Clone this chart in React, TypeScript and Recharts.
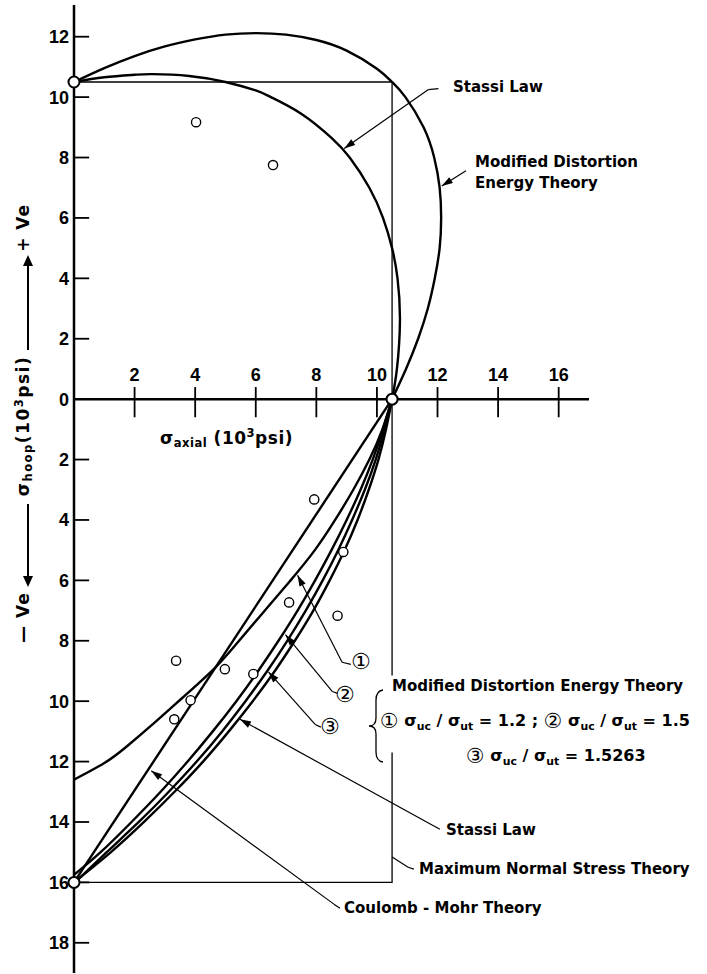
import { ComposedChart, Line, Scatter, XAxis, YAxis, ReferenceLine } from 'recharts';

const W = 707;
const H = 974;
const M = { top: 5, right: 12, bottom: 1, left: 74 };
const X_DOMAIN: [number, number] = [0, 20.5];
const Y_DOMAIN: [number, number] = [-19, 13.05];
const PX_X = (W - M.left - M.right) / (X_DOMAIN[1] - X_DOMAIN[0]);
const PX_Y = (H - M.top - M.bottom) / (Y_DOMAIN[1] - Y_DOMAIN[0]);

const AXIS_FONT = "'Liberation Sans', Arial, sans-serif";
const NOTE_FONT = "'DejaVu Sans', sans-serif";

const xTicks = [2, 4, 6, 8, 10, 12, 14, 16];
const yTicks = [12, 10, 8, 6, 4, 2, 0, -2, -4, -6, -8, -10, -12, -14, -16, -18];

// stresses in 10^3 psi: x = axial, y = hoop
const maxNormalUpper = [
  { x: 0, y: 10.5 }, { x: 10.5, y: 10.5 }, { x: 10.5, y: -9.15 },
];
const maxNormalLower = [
  { x: 10.5, y: -11.7 }, { x: 10.5, y: -16 }, { x: 0, y: -16 },
];

const stassiLaw = [
  { x: 0, y: 10.5 }, { x: 1, y: 10.66 }, { x: 2, y: 10.74 }, { x: 2.6, y: 10.76 },
  { x: 3.8, y: 10.7 }, { x: 5, y: 10.5 }, { x: 6, y: 10.22 }, { x: 6.5, y: 10 },
  { x: 7.5, y: 9.45 }, { x: 8.5, y: 8.65 }, { x: 9.1, y: 8 }, { x: 9.75, y: 7 },
  { x: 10.2, y: 6 }, { x: 10.5, y: 5 }, { x: 10.68, y: 4 }, { x: 10.76, y: 2.6 },
  { x: 10.66, y: 1 }, { x: 10.5, y: 0 }, { x: 10.3, y: -1 }, { x: 10.05, y: -2 },
  { x: 9.73, y: -3 }, { x: 9.36, y: -4 }, { x: 8.93, y: -5 }, { x: 8.44, y: -6 },
  { x: 7.9, y: -7 }, { x: 7.29, y: -8 }, { x: 6.63, y: -9 }, { x: 5.9, y: -10 },
  { x: 5.11, y: -11 }, { x: 4.26, y: -12 }, { x: 3.32, y: -13 }, { x: 2.31, y: -14 },
  { x: 1.22, y: -15 }, { x: 0, y: -16 },
];

const modDistortionTension = [
  { x: 0, y: 10.5 }, { x: 1, y: 10.96 }, { x: 2, y: 11.36 }, { x: 3, y: 11.68 },
  { x: 4, y: 11.91 }, { x: 5, y: 12.07 }, { x: 6, y: 12.12 }, { x: 7, y: 12.07 },
  { x: 8, y: 11.89 }, { x: 9, y: 11.54 }, { x: 10, y: 10.94 }, { x: 10.5, y: 10.5 },
  { x: 10.94, y: 10 }, { x: 11.54, y: 9 }, { x: 11.89, y: 8 }, { x: 12.07, y: 7 },
  { x: 12.12, y: 6 }, { x: 12.07, y: 5 }, { x: 11.91, y: 4 }, { x: 11.68, y: 3 },
  { x: 11.36, y: 2 }, { x: 10.96, y: 1 }, { x: 10.5, y: 0 },
];

// (1) σuc/σut = 1.2
const modDistortion1 = [
  { x: 10.5, y: 0 }, { x: 10.18, y: -1 }, { x: 9.75, y: -2 }, { x: 9.22, y: -3 },
  { x: 8.62, y: -4 }, { x: 7.95, y: -5 }, { x: 7.15, y: -6 }, { x: 6.3, y: -7 },
  { x: 5.45, y: -8 }, { x: 4.68, y: -8.87 }, { x: 3.6, y: -9.87 }, { x: 2.65, y: -10.72 },
  { x: 1.74, y: -11.5 }, { x: 1.0, y: -12.05 }, { x: 0, y: -12.6 },
];

// (2) σuc/σut = 1.5
const modDistortion2 = [
  { x: 10.5, y: 0 }, { x: 10.2, y: -1 }, { x: 9.86, y: -2 }, { x: 9.46, y: -3 },
  { x: 9.0, y: -4 }, { x: 8.5, y: -5 }, { x: 7.96, y: -6 }, { x: 7.38, y: -7 },
  { x: 6.75, y: -8 }, { x: 6.08, y: -9 }, { x: 5.36, y: -10 }, { x: 4.58, y: -11 },
  { x: 3.75, y: -12 }, { x: 2.86, y: -13 }, { x: 1.9, y: -14 }, { x: 0.88, y: -15 },
  { x: 0, y: -15.75 },
];

// (3) σuc/σut = 1.5263
const modDistortion3 = [
  { x: 10.5, y: 0 }, { x: 10.25, y: -1 }, { x: 9.96, y: -2 }, { x: 9.6, y: -3 },
  { x: 9.18, y: -4 }, { x: 8.72, y: -5 }, { x: 8.21, y: -6 }, { x: 7.65, y: -7 },
  { x: 7.04, y: -8 }, { x: 6.38, y: -9 }, { x: 5.66, y: -10 }, { x: 4.89, y: -11 },
  { x: 4.05, y: -12 }, { x: 3.13, y: -13 }, { x: 2.14, y: -14 }, { x: 1.08, y: -15 },
  { x: 0, y: -16.03 },
];

const coulombMohr = [{ x: 10.5, y: 0 }, { x: 0, y: -16 }];

const testPoints = [
  { x: 4.03, y: 9.17 }, { x: 6.57, y: 7.75 },
  { x: 7.93, y: -3.32 }, { x: 8.89, y: -5.06 }, { x: 7.1, y: -6.73 }, { x: 8.7, y: -7.17 },
  { x: 3.37, y: -8.66 }, { x: 4.98, y: -8.94 }, { x: 5.92, y: -9.1 },
  { x: 3.85, y: -9.97 }, { x: 3.31, y: -10.6 },
];

const intercepts = [{ x: 0, y: 10.5 }, { x: 10.5, y: 0 }, { x: 0, y: -16 }];

// leader lines of the notes, first point is the arrow tip
const leaders = [
  { arrow: true, pts: [{ x: 8.92, y: 8.3 }, { x: 11.7, y: 10.25 }, { x: 12.03, y: 10.28 }] },
  { arrow: true, pts: [{ x: 12.14, y: 7.06 }, { x: 12.94, y: 7.56 }] },
  { arrow: true, pts: [{ x: 7.38, y: -5.83 }, { x: 8.85, y: -8.71 }, { x: 9.14, y: -8.78 }] },
  { arrow: true, pts: [{ x: 6.98, y: -7.8 }, { x: 8.53, y: -9.68 }, { x: 8.7, y: -9.74 }] },
  { arrow: true, pts: [{ x: 6.42, y: -9.03 }, { x: 7.96, y: -10.77 }, { x: 8.15, y: -10.86 }] },
  { arrow: true, pts: [{ x: 5.48, y: -10.6 }, { x: 11.82, y: -14.1 }, { x: 12.08, y: -14.24 }] },
  { arrow: false, pts: [{ x: 10.5, y: -15.16 }, { x: 11.03, y: -15.5 }, { x: 11.22, y: -15.56 }] },
  { arrow: true, pts: [{ x: 2.55, y: -12.3 }, { x: 8.58, y: -16.72 }, { x: 8.78, y: -16.86 }] },
];

const arrowTips = leaders
  .filter((l) => l.arrow)
  .map((l) => ({ x: l.pts[0].x, y: l.pts[0].y, fx: l.pts[1].x, fy: l.pts[1].y }));

const tickLabel = (value: string, position: 'top' | 'left', offset: number) => ({
  value, position, offset, fill: '#000', fontSize: 18, fontWeight: 700, fontFamily: AXIS_FONT,
});

const Ring = (r: number, w: number) => (props: any) => (
  <circle cx={props.cx} cy={props.cy} r={r} fill="#fff" stroke="#000" strokeWidth={w} />
);

const ArrowHead = (props: any) => {
  const { cx, cy, payload } = props;
  const dx = (payload.x - payload.fx) * PX_X;
  const dy = -(payload.y - payload.fy) * PX_Y;
  const deg = (Math.atan2(dy, dx) * 180) / Math.PI;
  return (
    <polygon points="0,0 -11,-3.5 -11,3.5" fill="#000"
      transform={`translate(${cx},${cy}) rotate(${deg})`} />
  );
};

const Sub = ({ children }: { children: any }) => (
  <span style={{ fontSize: '0.68em', position: 'relative', top: '0.3em' }}>{children}</span>
);
const Sup = ({ children }: { children: any }) => (
  <span style={{ fontSize: '0.68em', position: 'relative', top: '-0.55em' }}>{children}</span>
);
const Circled = ({ children }: { children: any }) => (
  <span style={{ fontSize: '1.3em', fontWeight: 400, position: 'relative', top: '0.08em' }}>{children}</span>
);

const Note = ({ x, y, size = 15, children, style }: any) => (
  <div style={{
    position: 'absolute', left: x, top: y - size * 0.6, fontSize: size, fontWeight: 700,
    lineHeight: `${size * 1.2}px`, whiteSpace: 'nowrap', fontFamily: NOTE_FONT, ...style,
  }}>
    {children}
  </div>
);

const Arrow = ({ len, dir }: { len: number; dir: 'left' | 'right' }) => (
  <span style={{ display: 'inline-block', position: 'relative', width: len, height: 2, background: '#000' }}>
    <span style={{
      position: 'absolute', top: -4, [dir === 'left' ? 'left' : 'right']: -3,
      width: 0, height: 0, borderTop: '5px solid transparent', borderBottom: '5px solid transparent',
      [dir === 'left' ? 'borderRight' : 'borderLeft']: '11px solid #000',
    }} />
  </span>
);

const curve = (data: { x: number; y: number }[], w = 2.4, type: any = 'natural') => (
  <Line data={data} dataKey="y" type={type} stroke="#000" strokeWidth={w}
    dot={false} activeDot={false} isAnimationActive={false} />
);

export default function App() {
  return (
    <div style={{ position: 'absolute', left: 0, top: 0, width: W, height: H, background: '#fff', color: '#000' }}>
      <ComposedChart width={W} height={H} margin={M}>
        <XAxis type="number" dataKey="x" domain={X_DOMAIN} hide />
        <YAxis type="number" dataKey="y" domain={Y_DOMAIN} hide />

        {/* axes drawn through the origin */}
        <ReferenceLine segment={[{ x: 0, y: Y_DOMAIN[1] }, { x: 0, y: Y_DOMAIN[0] }]} stroke="#000" strokeWidth={2.5} />
        <ReferenceLine segment={[{ x: 0, y: 0 }, { x: 17, y: 0 }]} stroke="#000" strokeWidth={2.5} />
        {xTicks.map((t) => (
          <ReferenceLine key={`x${t}`} segment={[{ x: t, y: 0.4 }, { x: t, y: -0.6 }]}
            stroke="#000" strokeWidth={1.8} label={tickLabel(String(t), 'top', 6)} />
        ))}
        {yTicks.map((t) => (
          <ReferenceLine key={`y${t}`} segment={[{ x: 0, y: t }, { x: 0.5, y: t }]}
            stroke={t === 0 ? 'none' : '#000'} strokeWidth={1.8}
            label={tickLabel(String(Math.abs(t)), 'left', 5)} />
        ))}

        {leaders.map((l, i) =>
          l.pts.slice(1).map((p, j) => (
            <ReferenceLine key={`${i}-${j}`} segment={[l.pts[j], p]} stroke="#000" strokeWidth={1.2} />
          ))
        )}

        {curve(maxNormalUpper, 1.3, 'linear')}
        {curve(maxNormalLower, 1.3, 'linear')}
        {curve(coulombMohr, 2.4, 'linear')}
        {curve(stassiLaw)}
        {curve(modDistortionTension)}
        {curve(modDistortion1)}
        {curve(modDistortion2)}
        {curve(modDistortion3)}

        <Scatter data={arrowTips} dataKey="y" shape={ArrowHead} isAnimationActive={false} />
        <Scatter data={testPoints} dataKey="y" shape={Ring(4.6, 1.4)} isAnimationActive={false} />
        <Scatter data={intercepts} dataKey="y" shape={Ring(5.5, 2)} isAnimationActive={false} />
      </ComposedChart>

      {/* y axis title, reads bottom to top */}
      <div style={{
        position: 'absolute', left: 23 - 213, top: 430 - 12, width: 426, height: 24,
        transform: 'rotate(-90deg)', display: 'flex', alignItems: 'center',
        fontFamily: NOTE_FONT, fontSize: 17, fontWeight: 700, whiteSpace: 'nowrap', letterSpacing: 1,
      }}>
        <span>— Ve</span>
        <span style={{ marginLeft: 8 }}><Arrow len={80} dir="left" /></span>
        <span style={{ marginLeft: 8, letterSpacing: 1.5 }}>
          σ<Sub>hoop</Sub>(10<Sup>3</Sup>psi)
        </span>
        <span style={{ marginLeft: 6 }}><Arrow len={92} dir="right" /></span>
        <span style={{ marginLeft: 6 }}>+ Ve</span>
      </div>

      <Note x={160} y={438} size={17} style={{ letterSpacing: 0.5 }}>
        σ<Sub>axial</Sub> (10<Sup>3</Sup>psi)
      </Note>

      <Note x={453} y={87}>Stassi Law</Note>
      <Note x={475} y={162}>Modified Distortion</Note>
      <Note x={475} y={183}>Energy Theory</Note>

      <Note x={351} y={662} size={22} style={{ fontWeight: 400 }}>①</Note>
      <Note x={335} y={695} size={22} style={{ fontWeight: 400 }}>②</Note>
      <Note x={320} y={727} size={22} style={{ fontWeight: 400 }}>③</Note>

      <Note x={392} y={686}>Modified Distortion Energy Theory</Note>
      <Note x={380} y={720} size={16}>
        <Circled>①</Circled> σ<Sub>uc</Sub> / σ<Sub>ut</Sub> = 1.2 ; <Circled>②</Circled> σ<Sub>uc</Sub> / σ<Sub>ut</Sub> = 1.5
      </Note>
      <Note x={466} y={755} size={16}>
        <Circled>③</Circled> σ<Sub>uc</Sub> / σ<Sub>ut</Sub> = 1.5263
      </Note>
      <svg width={W} height={H} style={{ position: 'absolute', left: 0, top: 0, pointerEvents: 'none' }}>
        <path d="M 383 690 Q 376 691 376 700 L 376 718 Q 376 726 369 726 Q 376 726 376 734 L 376 752 Q 376 761 383 762"
          fill="none" stroke="#000" strokeWidth={1.3} />
      </svg>

      <Note x={446} y={830}>Stassi Law</Note>
      <Note x={419} y={869}>Maximum Normal Stress Theory</Note>
      <Note x={344} y={908}>Coulomb - Mohr Theory</Note>
    </div>
  );
}
